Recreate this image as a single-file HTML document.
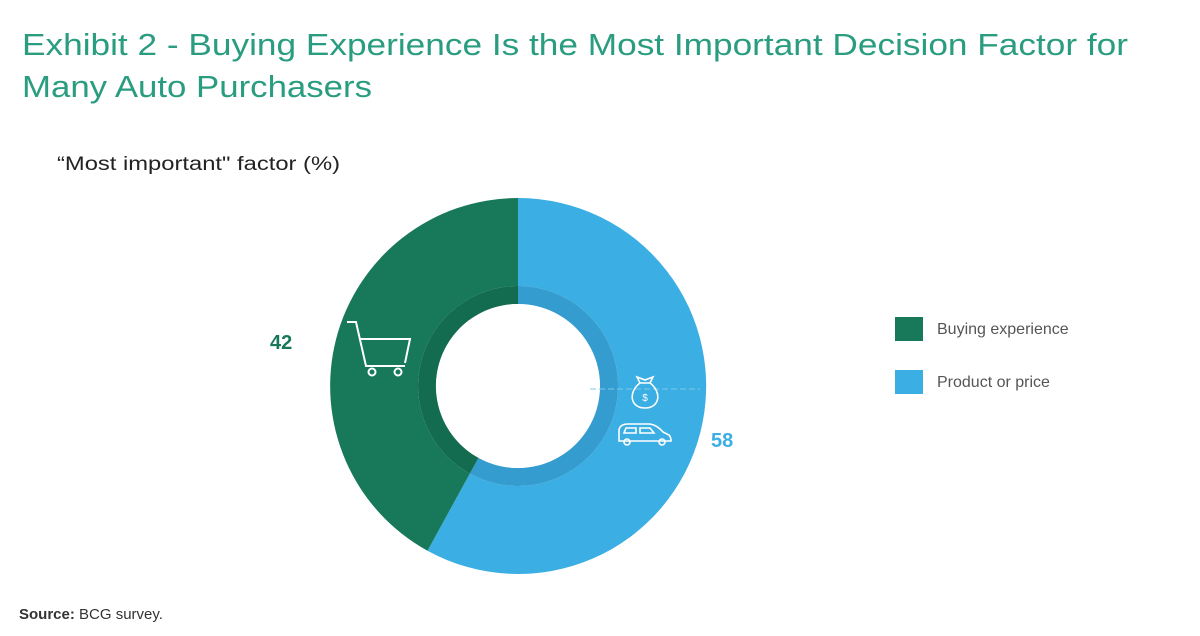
<!DOCTYPE html>
<html><head><meta charset="utf-8"><style>
html,body{margin:0;padding:0;background:#fff;}
svg{display:block;font-family:"Liberation Sans",sans-serif;}
</style></head><body>
<svg width="1200" height="636" viewBox="0 0 1200 636">
<text x="22" y="55" font-size="31" fill="#2a9d80" textLength="1106" lengthAdjust="spacingAndGlyphs">Exhibit 2 - Buying Experience Is the Most Important Decision Factor for</text>
<text x="22" y="97" font-size="31" fill="#2a9d80" textLength="350" lengthAdjust="spacingAndGlyphs">Many Auto Purchasers</text>
<text x="57" y="170" font-size="19" fill="#222" textLength="283" lengthAdjust="spacingAndGlyphs">“Most important" factor (%)</text>
<!-- donut -->
<path d="M518 198 A188 188 0 1 1 427.5 550.7 L469.8 473.6 A100 100 0 1 0 518 286 Z" fill="#3baee3"/>
<path d="M518 198 A188 188 0 0 0 427.5 550.7 L469.8 473.6 A100 100 0 0 1 518 286 Z" fill="#17785a"/>
<path d="M518 286 A100 100 0 1 1 469.8 473.6 L478.5 457.9 A82 82 0 1 0 518 304 Z" fill="#349ccf"/>
<path d="M518 286 A100 100 0 0 0 469.8 473.6 L478.5 457.9 A82 82 0 0 1 518 304 Z" fill="#136c4f"/>
<circle cx="518" cy="386" r="82" fill="#fff"/>
<line x1="590" y1="389" x2="700" y2="389" stroke="#7cc9ee" stroke-width="1" stroke-dasharray="6 3"/>
<!-- cart -->
<g fill="none" stroke="#fff" stroke-width="2">
<path d="M347 322 H356 L366 366 H405"/>
<path d="M359 339 H410 L405 363"/>
<circle cx="372" cy="372" r="3.5"/><circle cx="398" cy="372" r="3.5"/>
</g>
<!-- money bag -->
<g fill="none" stroke="#fff" stroke-width="1.6">
<path d="M640 383 C628 392 630 408 645 408 C660 408 662 392 650 383 Z"/>
<path d="M640 383 L637 377 L645 380 L653 377 L650 383"/>
</g>
<text x="645" y="401" font-size="10" fill="#fff" text-anchor="middle">$</text>
<!-- van -->
<g fill="none" stroke="#fff" stroke-width="1.6">
<path d="M619 440 V430 Q620 424 628 424 H650 Q657 425 663 432 L669 435 Q671 437 671 441 H619 Z"/>
<path d="M626 428 H636 V433 H624 Z M640 428 H650 L654 433 H640 Z"/>
<circle cx="627" cy="442" r="3"/><circle cx="662" cy="442" r="3"/>
</g>
<text x="270" y="349" font-size="20" font-weight="bold" fill="#17785a">42</text>
<text x="711" y="447" font-size="20" font-weight="bold" fill="#3baee3">58</text>
<!-- legend -->
<rect x="895" y="317" width="28" height="24" fill="#17785a"/>
<text x="937" y="334" font-size="16" fill="#555">Buying experience</text>
<rect x="895" y="370" width="28" height="24" fill="#3baee3"/>
<text x="937" y="387" font-size="16" fill="#555">Product or price</text>
<text x="19" y="619" font-size="15" fill="#333"><tspan font-weight="bold">Source:</tspan> BCG survey.</text>
</svg>
</body></html>
